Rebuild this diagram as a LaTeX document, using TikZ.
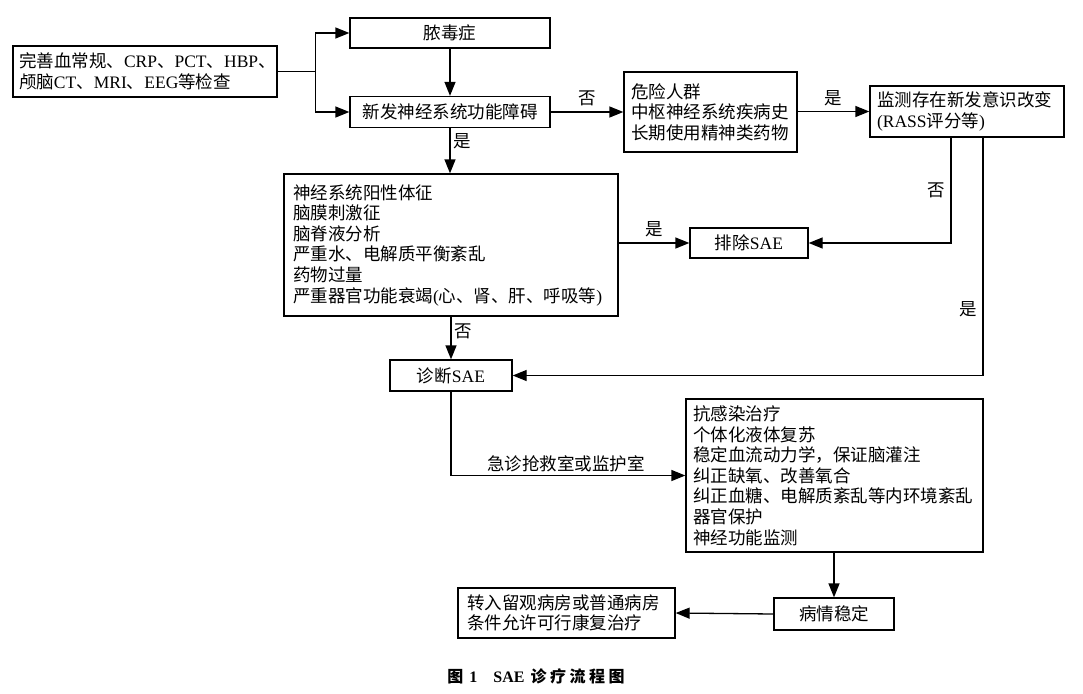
\documentclass[tikz,border=0pt]{standalone}
\usepackage{fontspec}
\setmainfont{Noto Sans CJK SC}
\newfontfamily\latfont{Liberation Serif}
\newcommand\rmtxt[1]{{\latfont #1}}
\usetikzlibrary{arrows.meta}
\begin{document}
\begin{tikzpicture}[x=1pt,y=-1pt,
    box/.style={draw,line width=1.3pt,inner xsep=8pt,inner ysep=2pt,
        font=\fontsize{17.5}{20.6}\selectfont},
    tbox/.style={box,align=left,text width=#1},
    arr/.style={line width=1.3pt,-{Triangle[length=14pt,width=11pt]}},
    lbl/.style={font=\fontsize{17.5}{20.6}\selectfont}]
    \useasboundingbox (0,0) rectangle (1083,693);
    %% boxes
    \node[tbox=252pt,inner xsep=6pt,minimum height=51pt] (exam) at (145,71.5)
        {完善血常规、\rmtxt{CRP}、\rmtxt{PCT}、\rmtxt{HBP}、\\颅脑\rmtxt{CT}、\rmtxt{MRI}、\rmtxt{EEG}等检查};
    \node[box,minimum width=200pt,minimum height=30pt] (sepsis) at (450,33) {脓毒症};
    \node[box,minimum width=200pt,minimum height=31pt] (newdys) at (450,112) {新发神经系统功能障碍};
    \node[tbox=159pt,inner xsep=7pt,minimum height=80pt] (risk) at (710.5,112)
        {危险人群\\中枢神经系统疾病史\\长期使用精神类药物};
    \node[tbox=180pt,inner xsep=7pt,minimum height=51pt] (monitor) at (967,111.5)
        {监测存在新发意识改变\\\rmtxt{(RASS}评分等\rmtxt{)}};
    \node[tbox=316pt,inner xsep=9pt,minimum height=142pt] (signs) at (451,245)
        {神经系统阳性体征\\脑膜刺激征\\脑脊液分析\\严重水、电解质平衡紊乱\\药物过量\\严重器官功能衰竭\rmtxt{(}心、肾、肝、呼吸等\rmtxt{)}};
    \node[box,minimum width=118pt,minimum height=30pt] (exclude) at (749,243) {排除\rmtxt{SAE}};
    \node[box,minimum width=122pt,minimum height=31pt] (diag) at (451,375.5) {诊断\rmtxt{SAE}};
    \node[tbox=283pt,inner xsep=7pt,minimum height=153pt] (treat) at (834.5,475.5)
        {抗感染治疗\\个体化液体复苏\\稳定血流动力学，保证脑灌注\\纠正缺氧、改善氧合\\纠正血糖、电解质紊乱等内环境紊乱\\器官保护\\神经功能监测};
    \node[box,minimum width=120pt,minimum height=32pt] (stable) at (834,614) {病情稳定};
    \node[tbox=199pt,inner xsep=9pt,minimum height=50pt] (transfer) at (566.5,613)
        {转入留观病房或普通病房\\条件允许可行康复治疗};
    %% arrows
    \draw[line width=1.3pt] (exam.east) -- ++(38,0) coordinate (split);
    \draw[arr] (split) |- (sepsis.west);
    \draw[arr] (split) |- (newdys.west);
    \draw[arr] (sepsis) -- (newdys);
    \draw[arr] (newdys.east) -- node[lbl,above,yshift=2pt] {否} (newdys.east -| risk.west);
    \draw[arr] (risk.east |- monitor.west) -- node[lbl,above,yshift=2pt] {是} (monitor.west);
    \draw[arr] ([xshift=-16pt]monitor.south) |- node[lbl,pos=0.25,left,xshift=-2pt] {否} (exclude.east);
    \draw[arr] ([xshift=16pt]monitor.south) |- node[lbl,pos=0.36,left,xshift=-2pt] {是} (diag.east);
    \draw[arr] (newdys) -- node[lbl,right,pos=0.3] {是} (newdys.south |- signs.north);
    \draw[arr] (exclude.west -| signs.east) -- node[lbl,above,yshift=2pt] {是} (exclude.west);
    \draw[arr] (signs.south) -- node[lbl,right,pos=0.35] {否} (diag.north);
    \draw[arr] (diag.south) |- node[lbl,above,pos=0.745] {急诊抢救室或监护室} (treat.west);
    \draw[arr] (stable.north |- treat.south) -- (stable.north);
    \draw[arr] (stable.west) -- (transfer.east);
    %% caption
    \node[font=\fontsize{16}{18}\selectfont\bfseries] (caption) at (536,676)
        {图\hspace{6pt}\rmtxt{1}\hspace{16pt}\rmtxt{SAE}\hspace{6pt}诊\hspace{3.5pt}疗\hspace{3.5pt}流\hspace{3.5pt}程\hspace{3.5pt}图};
\end{tikzpicture}
\end{document}
